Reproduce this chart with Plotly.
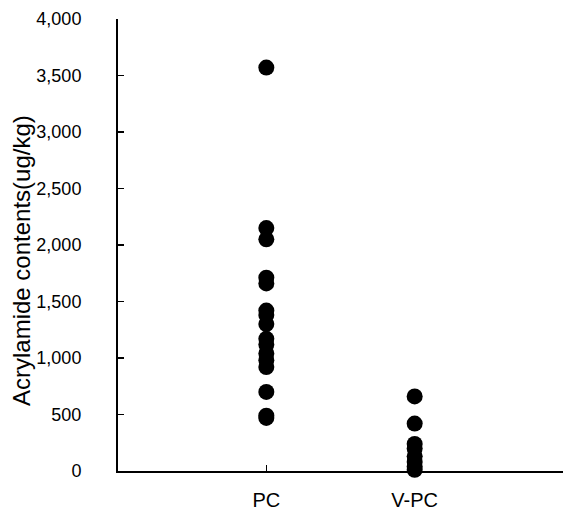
import plotly.graph_objects as go

categories = ["PC", "V-PC"]
cat_pos = [1, 2]
pc_values = [3570, 2150, 2050, 1710, 1660, 1420, 1380, 1300, 1170, 1120, 1040, 980, 920, 700, 490, 470]
vpc_values = [660, 420, 240, 200, 130, 80, 40, 10]
y_ticks = [0, 500, 1000, 1500, 2000, 2500, 3000, 3500, 4000]
y_tick_labels = ["0", "500", "1,000", "1,500", "2,000", "2,500", "3,000", "3,500", "4,000"]

font = "Liberation Sans, Arial, sans-serif"

fig = go.Figure()
fig.add_trace(go.Scatter(
    x=[cat_pos[0]] * len(pc_values), y=pc_values, mode="markers",
    marker=dict(color="black", size=16), cliponaxis=False, showlegend=False))
fig.add_trace(go.Scatter(
    x=[cat_pos[1]] * len(vpc_values), y=vpc_values, mode="markers",
    marker=dict(color="black", size=16), cliponaxis=False, showlegend=False))

fig.update_layout(
    width=568, height=519,
    margin=dict(l=118, r=5, t=19, b=48),
    plot_bgcolor="white", paper_bgcolor="white",
    font=dict(family=font, size=18, color="black"),
    xaxis=dict(range=[0, 3], tickvals=[0, 1, 2, 3], ticktext=["", categories[0], categories[1], ""],
               ticks="inside", ticklen=6, tickwidth=1.5, tickcolor="black",
               showline=True, linecolor="black", linewidth=2, showgrid=False, zeroline=False,
               ticklabelstandoff=10, tickfont=dict(size=20)),
    yaxis=dict(range=[0, 4000], tickvals=y_ticks, ticktext=y_tick_labels,
               ticks="inside", ticklen=6, tickwidth=1.5, tickcolor="black",
               showline=True, linecolor="black", linewidth=2, showgrid=False, zeroline=False,
               ticklabelstandoff=31, tickfont=dict(size=18)),
    annotations=[dict(text="Acrylamide contents(ug/kg)", xref="paper", yref="paper",
                      x=(21 - 118) / 445, y=(471 - 261) / 452, xanchor="center", yanchor="middle",
                      textangle=-90, showarrow=False, font=dict(size=24))],
)

fig.write_html("out.html",
               config={"displayModeBar": False, "staticPlot": True},
               post_script="document.body.style.margin='0px';document.body.style.overflow='hidden';document.documentElement.style.overflow='hidden';")
